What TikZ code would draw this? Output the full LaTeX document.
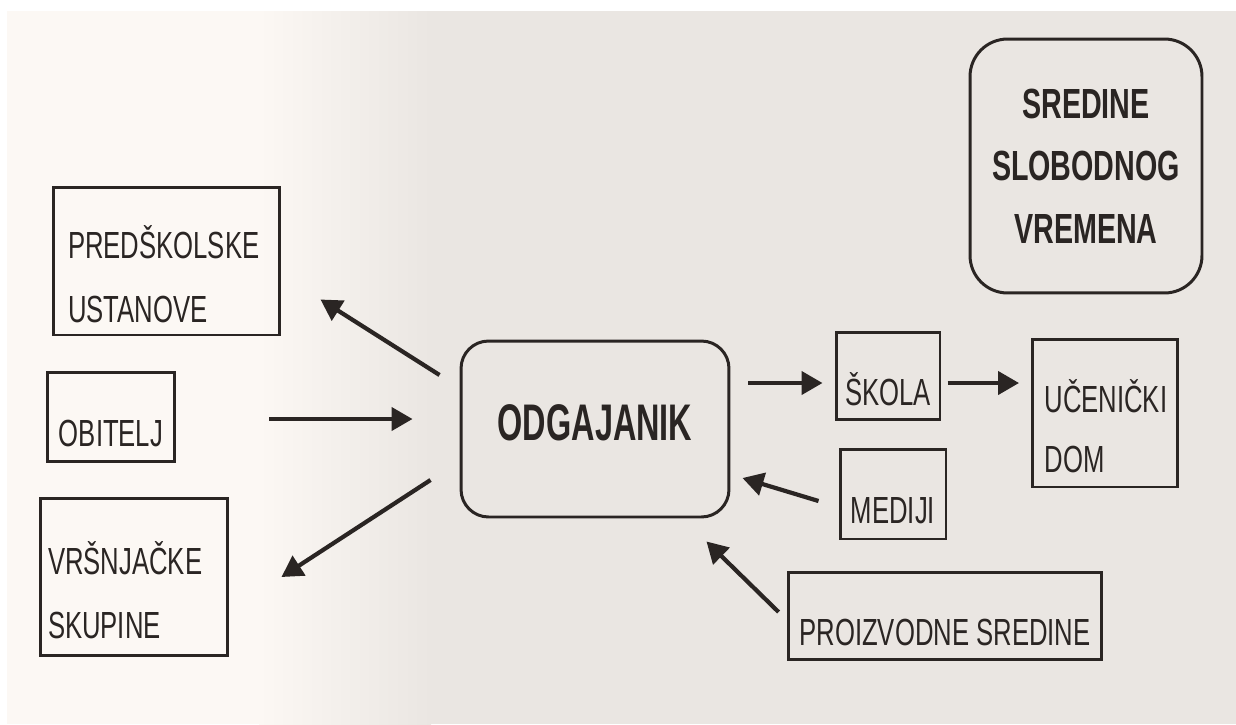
\documentclass[tikz,border=0pt]{standalone}
\usepackage{fontspec}
\setmainfont{Liberation Sans}[FakeStretch=0.68]
\newfontfamily\uskiden{Liberation Sans}[FakeStretch=0.63]
\usetikzlibrary{arrows.meta}

\definecolor{tinta}{HTML}{2A2523}
\definecolor{papir}{HTML}{FCF8F4}
\definecolor{sjena}{HTML}{EAE6E2}

% text sits a little low in the plain boxes
\newcommand{\spust}[2]{\raisebox{-0.58cm}[0pt][0pt]{\begin{tabular}{@{}#1@{}}#2\end{tabular}}}

\tikzset{
	kutija/.style={draw=tinta, line width=1.7pt, inner sep=0pt, text=tinta, font=\fontsize{21.5}{26}\selectfont},
	obla/.style={kutija, rounded corners=#1},
	strelica/.style={draw=tinta, line width=2.4pt, -{Triangle[length=0.42cm,width=0.46cm]}}
}

\begin{document}
\begin{tikzpicture}[x=0.02cm, y=-0.02cm]
		\useasboundingbox (0,0) rectangle (1236,724);
		%paper
		\fill[white] (0,0) rectangle (1236,724);
		\fill[papir] (7,11) rectangle (260,724);
		\shade[left color=papir, right color=sjena] (259,11) rectangle (431,724);
		\fill[sjena] (430,11) rectangle (1236,724);
		
		%left boxes
		\node at (166.5,261) [kutija, minimum width=4.54cm, minimum height=2.96cm] (pred) {\spust{p{3.94cm}}{PREDŠKOLSKE\\[10pt]USTANOVE}};
		\node at (111,417) [kutija, minimum width=2.56cm, minimum height=1.78cm] (obit) {\spust{c}{OBITELJ}};
		\node at (134,577) [kutija, minimum width=3.76cm, minimum height=3.14cm] (vrs) {\spust{p{3.44cm}}{VRŠNJAČKE\\[10pt]SKUPINE}};
		
		%centre
		\node at (595,429) [obla=0.55cm, minimum width=5.36cm, minimum height=3.52cm, font=\uskiden\fontsize{29.3}{32}\selectfont\bfseries] (odg) {\raisebox{-0.22cm}[0pt][0pt]{ODGAJANIK}};
		
		%right boxes
		\node at (1086,166) [obla=0.75cm, minimum width=4.64cm, minimum height=5.08cm, align=center, font=\fontsize{24}{26.6}\selectfont\bfseries] (sred) {SREDINE\\[9pt]SLOBODNOG\\[9pt]VREMENA};
		\node at (888,376) [kutija, minimum width=2.08cm, minimum height=1.74cm] (skola) {\spust{c}{ŠKOLA}};
		\node at (893,494) [kutija, minimum width=2.12cm, minimum height=1.8cm] (medij) {\spust{c}{MEDIJI}};
		\node at (1105,413) [kutija, minimum width=2.9cm, minimum height=2.96cm] (ucen) {\spust{p{2.42cm}}{UČENIČKI\\[8pt]DOM}};
		\node at (945,616) [kutija, minimum width=6.28cm, minimum height=1.74cm] (proiz) {\spust{c}{PROIZVODNE SREDINE}};
		
		%arrows
		\draw[strelica] ([shift={(-20,-54)}]odg.west) -- ([shift={(39,-37)}]pred.south east);
		\draw[strelica] ([shift={(93,2)}]obit.east) -- ([shift={(-47,-10)}]odg.west);
		\draw[strelica] ([shift={(-29,51)}]odg.west) -- ([shift={(52,0)}]vrs.east);
		\draw[strelica] ([shift={(18,-46)}]odg.east) -- ([shift={(-12,7)}]skola.west);
		\draw[strelica] ([shift={(6,7)}]skola.east) -- ([shift={(-12,-30)}]ucen.west);
		\draw[strelica] ([shift={(-20,7)}]medij.west) -- ([shift={(12,49)}]odg.east);
		\draw[strelica] ([shift={(-8,-4)}]proiz.west) -- ([shift={(-24,23)}]odg.south east);
\end{tikzpicture}
\end{document}
